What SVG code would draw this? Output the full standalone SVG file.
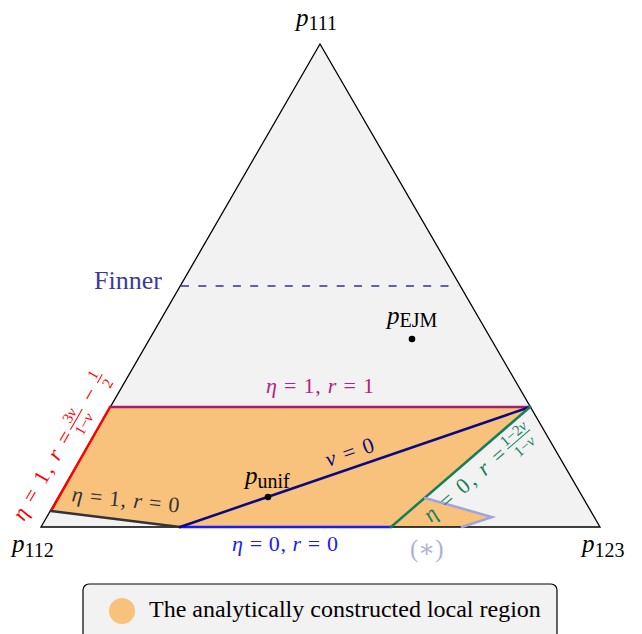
<svg xmlns="http://www.w3.org/2000/svg" width="642" height="634" viewBox="0 0 642 634">
<style>
text{font-family:"Liberation Serif","DejaVu Serif",serif;}
.m{font-size:22px;}
.i{font-style:italic;}
.lbl{font-size:25px;}
.sub{font-size:20px;font-style:normal;}
.fr{font-size:15px;}
.ln{fill:none;stroke-width:2.5;stroke-linecap:round;}
</style>
<rect width="642" height="634" fill="#ffffff"/>
<g id="simplex">
<polygon points="320,44 41,527 600,527" fill="#f2f2f2"/>
</g>
<g id="region">
<polygon points="51,511 110,407 530,407 425,498 492,517 462,527 180,527" fill="#f8c27d"/>
</g>
<g id="simplex-edge">
<polygon points="320,44 41,527 600,527" fill="none" stroke="#000" stroke-width="1.3"/>
</g>
<g id="connectors">
<line x1="181" y1="286" x2="458" y2="286" stroke="#33338f" stroke-width="1.6" stroke-dasharray="8 9.3"/>
<line class="ln" x1="110" y1="407" x2="530" y2="407" stroke="#a61f6b"/>
<line class="ln" x1="51" y1="511" x2="110" y2="407" stroke="#ff0000"/>
<line class="ln" x1="51" y1="511" x2="180" y2="527" stroke="#333333"/>
<line class="ln" x1="180" y1="527" x2="391" y2="527" stroke="#1a1aff"/>
<line class="ln" x1="180" y1="527" x2="530" y2="407" stroke="#0a0a80"/>
<line class="ln" x1="391" y1="527" x2="530" y2="407" stroke="#157f5b"/>
<polyline class="ln" points="425,498 492,517 462,527" stroke="#a0a4dc"/>
</g>
<g id="p111"><text x="296" y="26" class="lbl"><tspan class="i">p</tspan><tspan class="sub" dy="4">111</tspan></text></g>
<g id="p112"><text x="12" y="552" class="lbl"><tspan class="i">p</tspan><tspan class="sub" dy="5">112</tspan></text></g>
<g id="p123"><text x="582" y="552" class="lbl"><tspan class="i">p</tspan><tspan class="sub" dy="5">123</tspan></text></g>
<g id="punif">
<circle cx="268" cy="497" r="3.3" fill="#000"/>
<text x="245" y="484" class="lbl"><tspan class="i">p</tspan><tspan class="sub" dy="4">unif</tspan></text>
</g>
<g id="pejm">
<circle cx="412" cy="339" r="3.3" fill="#000"/>
<text x="387" y="324" class="lbl"><tspan class="i">p</tspan><tspan class="sub" dy="3">EJM</tspan></text>
</g>
<g id="finner"><text x="94" y="289" font-size="26" fill="#3b3b96">Finner</text></g>
<g id="lbl-purple"><text x="320" y="393" text-anchor="middle" class="m" fill="#b5237d" textLength="108" lengthAdjust="spacing"><tspan class="i">η</tspan> = 1, <tspan class="i">r</tspan> = 1</text></g>
<g id="lbl-nu"><text transform="translate(352,459) rotate(-18.9)" text-anchor="middle" class="m" fill="#0a0a80" textLength="50" lengthAdjust="spacing"><tspan class="i">ν</tspan> = 0</text></g>
<g id="lbl-black"><text transform="translate(125,507) rotate(6)" text-anchor="middle" class="m" fill="#333333" textLength="108" lengthAdjust="spacing"><tspan class="i">η</tspan> = 1, <tspan class="i">r</tspan> = 0</text></g>
<g id="lbl-blue"><text x="285" y="551" text-anchor="middle" class="m" fill="#1a1aff" textLength="106" lengthAdjust="spacing"><tspan class="i">η</tspan> = 0, <tspan class="i">r</tspan> = 0</text></g>
<g id="lbl-green" transform="translate(431,523) rotate(-40.8)" fill="#157f5b">
<text x="0" y="0" class="m" textLength="102" lengthAdjust="spacing"><tspan class="i">η</tspan> = 0, <tspan class="i">r</tspan> =</text>
<text x="121" y="-9" class="fr" text-anchor="middle">1−2<tspan class="i">ν</tspan></text>
<line x1="106" y1="-6" x2="136" y2="-6" stroke="#157f5b" stroke-width="1"/>
<text x="121" y="8" class="fr" text-anchor="middle">1−<tspan class="i">ν</tspan></text>
</g>
<g id="lbl-red" transform="translate(24,522) rotate(-60)" fill="#ff0000">
<text x="0" y="0" class="m" textLength="100" lengthAdjust="spacing"><tspan class="i">η</tspan> = 1, <tspan class="i">r</tspan> =</text>
<text x="115" y="-9" class="fr" text-anchor="middle">3<tspan class="i">ν</tspan></text>
<line x1="103" y1="-6" x2="127" y2="-6" stroke="#ff0000" stroke-width="1"/>
<text x="115" y="8" class="fr" text-anchor="middle">1−<tspan class="i">ν</tspan></text>
<text x="143" y="0" class="m" text-anchor="middle">−</text>
<text x="162" y="-9" class="fr" text-anchor="middle">1</text>
<line x1="157" y1="-6" x2="167" y2="-6" stroke="#ff0000" stroke-width="1"/>
<text x="162" y="8" class="fr" text-anchor="middle">2</text>
</g>
<g id="star"><text x="410" y="557" font-size="25" fill="#aeb0dc">(∗)</text></g>
<g id="legend">
<rect x="83" y="584" width="474" height="62" rx="6" fill="#f2f2f2" stroke="#000" stroke-width="1.2"/>
<circle cx="122" cy="611" r="13" fill="#f8c27d"/>
<text x="149" y="617" font-size="24" fill="#000">The analytically constructed local region</text>
</g>
</svg>
